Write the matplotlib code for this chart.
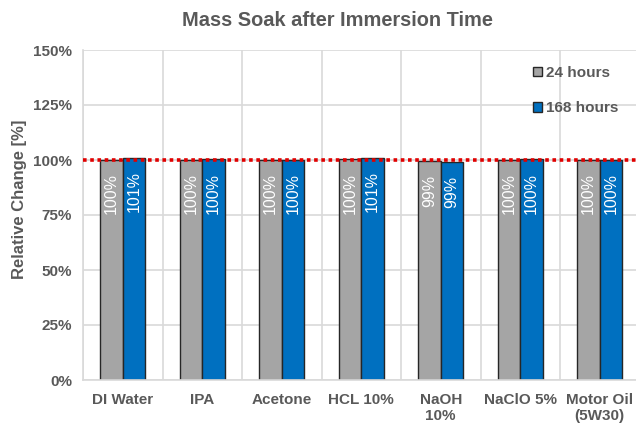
import numpy as np
import matplotlib.pyplot as plt

# Data
categories = ['DI Water', 'IPA', 'Acetone', 'HCL 10%', 'NaOH\n10%', 'NaClO 5%', 'Motor Oil\n(5W30)']
hours_24 = [100.2, 100.1, 100.0, 100.3, 99.4, 100.1, 100.0]
hours_168 = [101.1, 100.3, 100.2, 100.8, 98.9, 100.3, 100.1]
series_names = ['24 hours', '168 hours']
yticks = [0, 25, 50, 75, 100, 125, 150]
reference_level = 100

text_grey = '#595959'
grid_grey = '#d9d9d9'
bar_colors = ['#a5a5a5', '#0070c0']

plt.rcParams['font.family'] = ['Liberation Sans', 'DejaVu Sans']

fig = plt.figure(figsize=(6.36, 4.28), dpi=100)
ax = fig.add_axes([83 / 636, 48 / 428, 556.5 / 636, 330 / 428])

x = np.arange(len(categories))
w = 0.283

for k, (vals, name) in enumerate(zip([hours_24, hours_168], series_names)):
    pos = x + (k - 0.5) * w
    ax.bar(pos, vals, width=w, color=bar_colors[k], edgecolor='#262626',
           linewidth=1.0, label=name, zorder=2)
    for p, v in zip(pos, vals):
        ax.text(p, v - 6, f'{v:.0f}%', rotation=90, ha='center', va='top',
                color='white', fontsize=11.5, zorder=3)

ax.axhline(reference_level, color='#e00000', linestyle=(0, (1, 1)),
           linewidth=2.6, zorder=4)

ax.set_xlim(-0.5, len(categories) - 0.5)
ax.set_ylim(0, 150)
ax.set_yticks(yticks)
ax.set_yticklabels([f'{t}%' for t in yticks])
ax.set_xticks(x)
ax.set_xticklabels(categories)

# category boundaries as vertical grid lines
ax.set_xticks(np.arange(-0.5, len(categories), 1.0), minor=True)
ax.grid(True, which='minor', axis='x', color=grid_grey, linewidth=1.2, zorder=0)
ax.grid(True, which='major', axis='y', color=grid_grey, linewidth=1.2, zorder=0)
ax.set_axisbelow(True)

ax.tick_params(which='both', length=0)
ax.tick_params(axis='x', pad=9, labelsize=11, labelcolor=text_grey)
ax.tick_params(axis='y', pad=8, labelsize=11, labelcolor=text_grey)
for lbl in ax.get_xticklabels() + ax.get_yticklabels():
    lbl.set_fontweight('bold')

for side in ['top', 'right']:
    ax.spines[side].set_visible(False)
for side in ['left', 'bottom']:
    ax.spines[side].set_color(grid_grey)
    ax.spines[side].set_linewidth(1.2)

ax.set_ylabel('Relative Change [%]', fontsize=12, fontweight='bold',
              color=text_grey, labelpad=4)
ax.yaxis.set_label_coords(-0.1, 0.548)
fig.text(337 / 636, 1 - 21 / 428, 'Mass Soak after Immersion Time',
         ha='center', va='center', fontsize=14.4, fontweight='bold', color=text_grey)

leg = ax.legend(loc='upper left', bbox_to_anchor=(533 / 636, 1 - 66 / 428),
                bbox_transform=fig.transFigure, frameon=False,
                handlelength=0.6, handleheight=0.6, handletextpad=0.25,
                labelspacing=1.4, borderpad=0, borderaxespad=0,
                prop={'size': 11, 'weight': 'bold'})
for t in leg.get_texts():
    t.set_color(text_grey)

fig.savefig('out.png', dpi=100)
